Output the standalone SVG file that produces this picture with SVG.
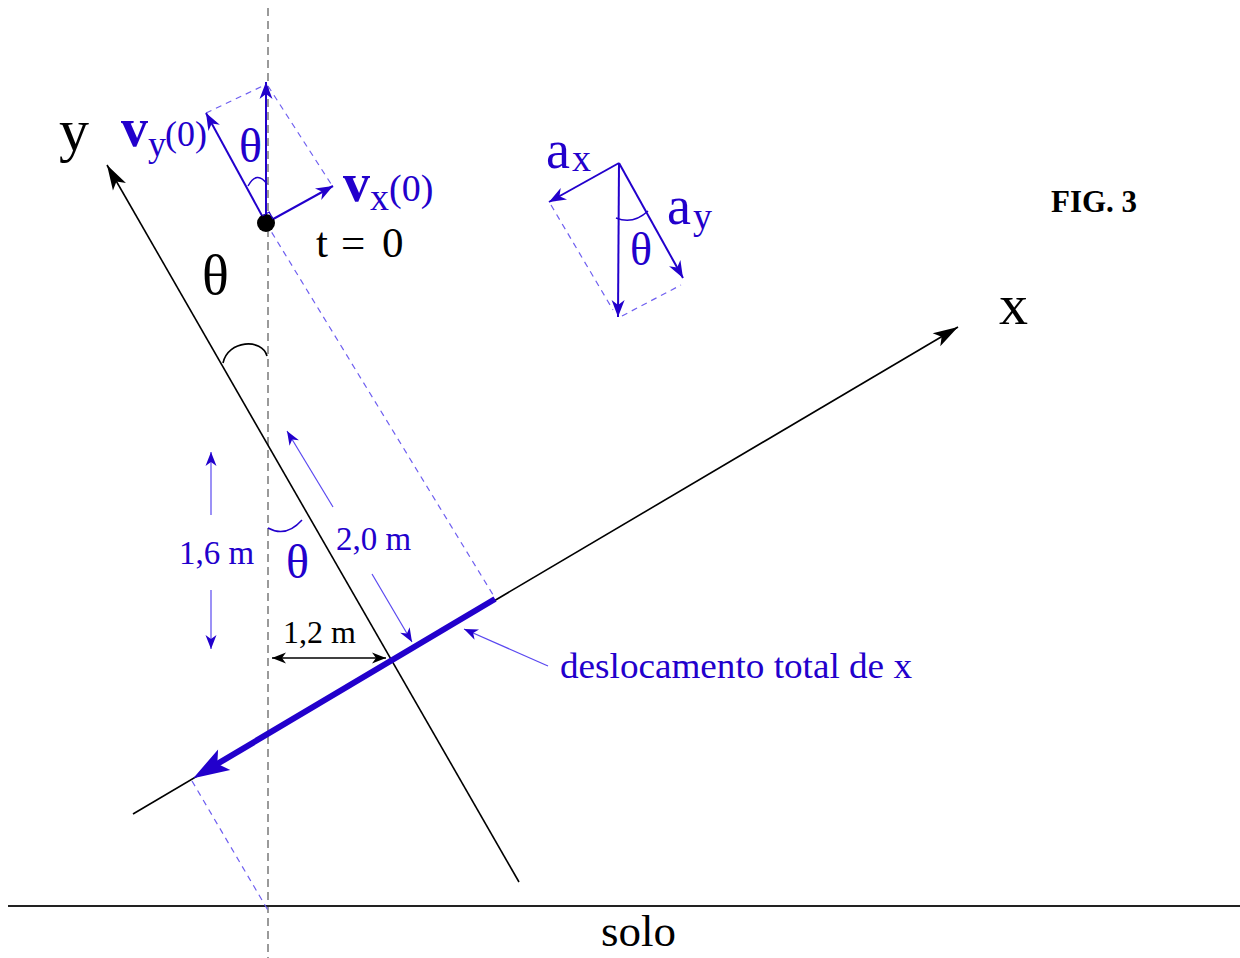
<svg xmlns="http://www.w3.org/2000/svg" width="1240" height="958" viewBox="0 0 1240 958">
<style>
.ax{stroke:#000;stroke-width:1.6;fill:none}
.gd{stroke:#7a7a7a;stroke-width:1.5;stroke-dasharray:8,5;fill:none}
.bd{stroke:#6f5ff0;stroke-width:1.2;stroke-dasharray:6,5;fill:none}
.bv{stroke:#2200cc;stroke-width:2;fill:none}
.bt{stroke:#5a48f0;stroke-width:1.2;fill:none}
.t{font-family:"Liberation Serif","Times New Roman",serif;fill:#000}
.b{font-family:"Liberation Serif","Times New Roman",serif;fill:#2200cc}
</style>
<defs>
<marker id="hk" overflow="visible" markerUnits="userSpaceOnUse" orient="auto" markerWidth="1" markerHeight="1"><path d="M0,0 L-25,-7.5 L-19,0 L-25,7.5 Z" fill="#000"/></marker>
<marker id="hks" overflow="visible" markerUnits="userSpaceOnUse" orient="auto-start-reverse" markerWidth="1" markerHeight="1"><path d="M0,0 L-14,-5.5 L-10,0 L-14,5.5 Z" fill="#000"/></marker>
<marker id="hb" overflow="visible" markerUnits="userSpaceOnUse" orient="auto" markerWidth="1" markerHeight="1"><path d="M0,0 L-17,-6.5 L-12,0 L-17,6.5 Z" fill="#2200cc"/></marker>
<marker id="hbs" overflow="visible" markerUnits="userSpaceOnUse" orient="auto" markerWidth="1" markerHeight="1"><path d="M0,0 L-14,-5.5 L-10,0 L-14,5.5 Z" fill="#2200cc"/></marker>
<marker id="hbb" overflow="visible" markerUnits="userSpaceOnUse" orient="auto" markerWidth="1" markerHeight="1"><path d="M16,0 L-20,-12 L-12,0 L-20,12 Z" fill="#2200cc"/></marker>
</defs>
<rect width="1240" height="958" fill="#fff"/>

<g id="guides">
<line class="gd" x1="268" y1="8" x2="268" y2="958"/>
<line x1="8" y1="906" x2="1240" y2="906" stroke="#222" stroke-width="2"/>
<line class="bd" x1="266" y1="223" x2="495" y2="598"/>
<line class="bd" x1="192" y1="781" x2="269" y2="912"/>
</g>

<g id="connectors">
<line class="ax" x1="519" y1="882" x2="107" y2="165" marker-end="url(#hk)"/>
<line class="ax" x1="133" y1="814" x2="958" y2="327" marker-end="url(#hk)"/>
<line x1="495" y1="599" x2="207" y2="770" stroke="#2200cc" stroke-width="6" marker-end="url(#hbb)"/>
<path class="ax" d="M223,363 C228,340 262,338 267,356" stroke-width="1.3"/>
<path d="M268,528 Q286,538 302,520" stroke="#2200cc" stroke-width="1.5" fill="none"/>
<line class="ax" x1="272" y1="658" x2="386" y2="658" stroke-width="1.3" marker-start="url(#hks)" marker-end="url(#hks)"/>
<line class="bt" x1="211" y1="515" x2="211" y2="452" marker-end="url(#hbs)"/>
<line class="bt" x1="211" y1="590" x2="211" y2="649" marker-end="url(#hbs)"/>
<line class="bt" x1="333" y1="507" x2="287" y2="431" marker-end="url(#hbs)"/>
<line class="bt" x1="372" y1="574" x2="412" y2="642" marker-end="url(#hbs)"/>
<line class="bt" x1="548" y1="666" x2="464" y2="629" marker-end="url(#hbs)"/>
</g>

<g id="velocity">
<line class="bd" x1="206" y1="113" x2="267" y2="84"/>
<line class="bd" x1="268" y1="86" x2="333" y2="187"/>
<line class="bv" x1="266" y1="223" x2="266" y2="82" stroke-width="1.8" marker-end="url(#hb)"/>
<line class="bv" x1="266" y1="223" x2="206" y2="113" marker-end="url(#hb)"/>
<line class="bv" x1="266" y1="223" x2="333" y2="186" marker-end="url(#hb)"/>
<path d="M248,186 Q257,170 267,184" stroke="#2200cc" stroke-width="1.5" fill="none"/>
<circle cx="266" cy="223" r="9" fill="#000"/>
<path d="M262.2,216 L269.2,212.1 L273,219.1" stroke="#2200cc" stroke-width="1.2" fill="none"/>
<text class="b" x="239" y="162" font-size="48">θ</text>
<text class="b" x="121" y="146" font-size="54" font-weight="bold">v</text>
<text class="b" x="148" y="156" font-size="36">y</text>
<text class="b" x="165" y="146" font-size="36">(0)</text>
<text class="b" x="343" y="201" font-size="54" font-weight="bold">v</text>
<text class="b" x="370" y="210" font-size="38">x</text>
<text class="b" x="389" y="201" font-size="38">(0)</text>
<text class="t" y="257" font-size="43"><tspan x="316">t</tspan><tspan x="341">=</tspan><tspan x="382">0</tspan></text>
</g>

<g id="acceleration">
<line class="bd" x1="551" y1="205" x2="613" y2="310"/>
<line class="bd" x1="622" y1="316" x2="681" y2="285"/>
<line class="bv" x1="619" y1="163" x2="549" y2="202" marker-end="url(#hb)"/>
<line class="bv" x1="619" y1="163" x2="683" y2="278" marker-end="url(#hb)"/>
<line class="bv" x1="619" y1="163" x2="618" y2="317" marker-end="url(#hb)"/>
<path d="M616,218 Q633,225 648,211" stroke="#2200cc" stroke-width="1.5" fill="none"/>
<text class="b" x="630" y="265" font-size="46">θ</text>
<text class="b" x="546" y="168" font-size="54">a</text>
<text class="b" x="572" y="171" font-size="38">x</text>
<text class="b" x="667" y="224" font-size="54">a</text>
<text class="b" x="693" y="229" font-size="38">y</text>
</g>

<g id="labels">
<text class="t" x="59" y="150" font-size="60">y</text>
<text class="t" x="999" y="324" font-size="58">x</text>
<text class="t" x="202" y="294" font-size="56">θ</text>
<text class="b" x="286" y="578" font-size="48">θ</text>
<text class="b" x="179" y="564" font-size="33">1,6 m</text>
<text class="b" x="336" y="550" font-size="33">2,0 m</text>
<text class="t" x="283" y="643" font-size="32">1,2 m</text>
<text class="b" x="560" y="678" font-size="35" textLength="352" lengthAdjust="spacingAndGlyphs">deslocamento total de x</text>
<text class="t" x="601" y="946" font-size="45">solo</text>
<text class="t" x="1051" y="212" font-size="31" font-weight="bold">FIG. 3</text>
</g>
</svg>
